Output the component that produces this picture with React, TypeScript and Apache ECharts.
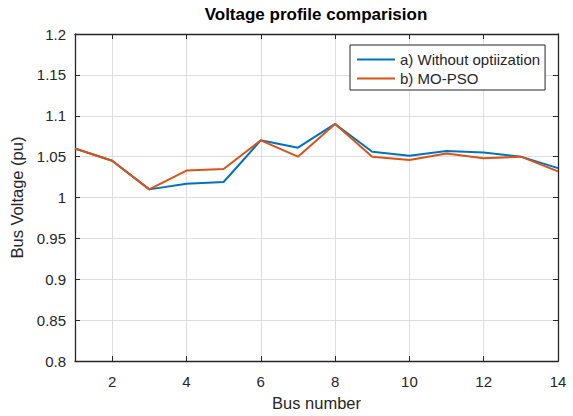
import React, { useEffect, useRef } from "react";
import * as echarts from "echarts";

const buses = ["1", "2", "3", "4", "5", "6", "7", "8", "9", "10", "11", "12", "13", "14"];
const withoutOpt = [1.06, 1.045, 1.01, 1.017, 1.019, 1.07, 1.061, 1.09, 1.056, 1.051, 1.057, 1.055, 1.05, 1.036];
const moPso = [1.06, 1.045, 1.01, 1.033, 1.035, 1.07, 1.05, 1.09, 1.05, 1.046, 1.054, 1.048, 1.05, 1.032];
const seriesNames = ["a) Without optiization", "b) MO-PSO"];
const titleText = "Voltage profile comparision";
const xName = "Bus number";
const yName = "Bus Voltage (pu)";

const FONT = "Liberation Sans, Arial, sans-serif";
const TXT = "#262626";
const AX = "#262626";

export default function App() {
  const ref = useRef<HTMLDivElement>(null);
  useEffect(() => {
    if (!ref.current) return;
    const chart = echarts.init(ref.current, undefined, { renderer: "svg" });
    const even = (_i: number, v: string) => Number(v) % 2 === 0;
    const evenIdx = (i: number) => (i + 1) % 2 === 0;
    chart.setOption({
      animation: false,
      backgroundColor: "#ffffff",
      textStyle: { fontFamily: FONT },
      title: {
        text: titleText,
        left: 316,
        textAlign: "center",
        top: 6,
        padding: 0,
        textStyle: { fontFamily: FONT, fontSize: 17, fontWeight: "bold", color: "#000" },
      },
      legend: {
        orient: "vertical",
        left: 350,
        top: 45,
        padding: [7, 5, 4, 7],
        itemGap: 4,
        itemWidth: 38,
        itemHeight: 2,
        icon: "rect",
        borderColor: "#262626",
        borderWidth: 1,
        backgroundColor: "#fff",
        textStyle: { fontFamily: FONT, fontSize: 15, color: TXT },
        data: seriesNames,
      },
      grid: { left: 75, right: 15, top: 34, bottom: 50, containLabel: false },
      xAxis: [
        {
          type: "category",
          data: buses,
          boundaryGap: false,
          name: xName,
          nameLocation: "middle",
          nameGap: 29,
          nameTextStyle: { fontFamily: FONT, fontSize: 16.5, color: TXT },
          axisLine: { show: true, lineStyle: { color: AX, width: 1.3 } },
          axisTick: { show: true, inside: true, length: 5, interval: evenIdx, lineStyle: { color: AX } },
          axisLabel: { interval: even, margin: 13, fontFamily: FONT, fontSize: 15, color: TXT },
          splitLine: { show: true, interval: evenIdx, lineStyle: { color: "#dedede", width: 1 } },
        },
        {
          type: "category",
          data: buses,
          boundaryGap: false,
          position: "top",
          axisLine: { show: true, lineStyle: { color: AX, width: 1.3 } },
          axisTick: { show: true, inside: true, length: 5, interval: evenIdx, lineStyle: { color: AX } },
          axisLabel: { show: false },
          splitLine: { show: false },
        },
      ],
      yAxis: [
        {
          type: "value",
          min: 0.8,
          max: 1.2,
          interval: 0.05,
          name: yName,
          nameLocation: "middle",
          nameGap: 45,
          nameTextStyle: { fontFamily: FONT, fontSize: 16.5, color: TXT },
          axisLine: { show: true, lineStyle: { color: AX, width: 1.3 } },
          axisTick: { show: true, inside: true, length: 5, lineStyle: { color: AX } },
          axisLabel: {
            margin: 9,
            fontFamily: FONT,
            fontSize: 15,
            color: TXT,
            formatter: (v: number) => String(parseFloat(v.toFixed(2))),
          },
          splitLine: { show: true, lineStyle: { color: "#dedede", width: 1 } },
        },
        {
          type: "value",
          min: 0.8,
          max: 1.2,
          interval: 0.05,
          position: "right",
          axisLine: { show: true, lineStyle: { color: AX, width: 1.3 } },
          axisTick: { show: true, inside: true, length: 5, lineStyle: { color: AX } },
          axisLabel: { show: false },
          splitLine: { show: false },
        },
      ],
      series: [
        {
          name: seriesNames[0],
          type: "line",
          data: withoutOpt,
          symbol: "none",
          color: "#0072BD",
          lineStyle: { width: 2, color: "#0072BD" },
          z: 2,
        },
        {
          name: seriesNames[1],
          type: "line",
          data: moPso,
          symbol: "none",
          color: "#D95319",
          lineStyle: { width: 2, color: "#D95319" },
          z: 3,
        },
      ],
    });
    return () => chart.dispose();
  }, []);
  return (
    <div
      ref={ref}
      style={{ position: "fixed", left: 0, top: 0, width: 573, height: 416, background: "#fff" }}
    />
  );
}
